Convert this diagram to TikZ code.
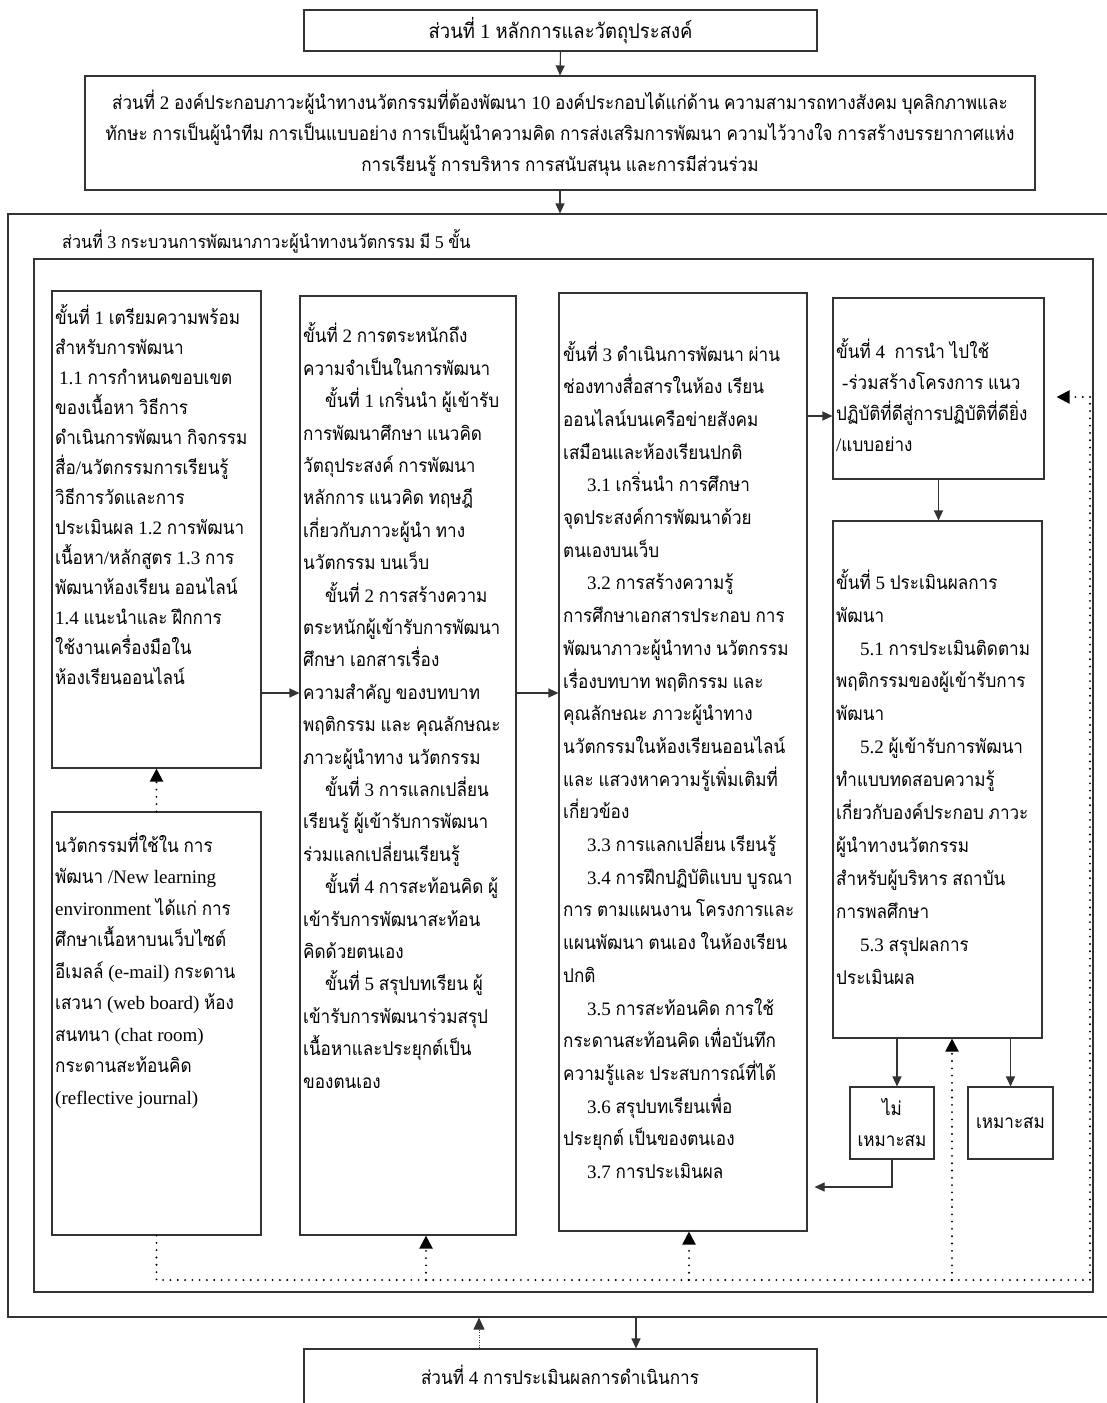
\documentclass[tikz,border=0pt]{standalone}
\usepackage{fontspec}
\setmainfont{Liberation Serif}
\newfontfamily\thaifont[Script=Thai,FakeStretch=0.9]{Loma}
\usetikzlibrary{arrows.meta}

% Thai characters switch to the Thai family automatically
\XeTeXinterchartokenstate=1
\chardef\thaiclass=3
\makeatletter
\@tempcnta="0E00
\loop\ifnum\@tempcnta<"0E80
  \XeTeXcharclass\@tempcnta=\thaiclass
  \advance\@tempcnta by 1
\repeat
\makeatother
\XeTeXinterchartoks 0 \thaiclass = {\begingroup\thaifont}
\XeTeXinterchartoks 4095 \thaiclass = {\begingroup\thaifont}
\XeTeXinterchartoks \thaiclass 0 = {\endgroup}
\XeTeXinterchartoks \thaiclass 4095 = {\endgroup}

\begin{document}
\begin{tikzpicture}[x=1pt,y=-1pt,
  line/.style={draw=black!80,line width=1.1pt},
  box/.style={line,rectangle,inner sep=0pt,align=center},
  % multi-line texts are placed by the baseline of their last line
  txt/.style={inner sep=0pt,anchor=base west,align=left},
  arr/.style={line,-{Triangle[length=10pt,width=9pt]}},
  dotln/.style={draw=black,line width=2.1pt,line cap=round,dash pattern=on 0pt off 7.3pt},
  dotarr/.style={dotln,-{Triangle[length=13pt,width=13pt]}},
  fineup/.style={draw=black!80,line width=0.8pt,dash pattern=on 1pt off 1.5pt,-{Triangle[length=12pt,width=11pt]}},
  body/.style={font=\fontsize{19}{#1}\selectfont}]
\useasboundingbox (0,0) rectangle (1107,1403);
\clip (0,0) rectangle (1107,1403);

% --- parts 1 and 2 ---
\node[box,minimum width=513pt,minimum height=41pt,font=\fontsize{20.5}{31}\selectfont] (p1) at (560.5,30.5)
  {ส่วนที่ 1 หลักการและวัตถุประสงค์};
\node[box,minimum width=950pt,minimum height=114pt] (p2) at (560,133) {};
\node[inner sep=0pt,anchor=base,align=center,body=31] (p2t) at (560,171)
  {ส่วนที่ 2 องค์ประกอบภาวะผู้นำทางนวัตกรรมที่ต้องพัฒนา 10 องค์ประกอบได้แก่ด้าน ความสามารถทางสังคม บุคลิกภาพและ\\
   ทักษะ การเป็นผู้นำทีม การเป็นแบบอย่าง การเป็นผู้นำความคิด การส่งเสริมการพัฒนา ความไว้วางใจ การสร้างบรรยากาศแห่ง\\
   การเรียนรู้ การบริหาร การสนับสนุน และการมีส่วนร่วม};

% --- part 3 frames ---
\node[box,minimum width=1112pt,minimum height=1103pt] (part3) at (564,765.5) {};
\node[txt,font=\fontsize{18}{31}\selectfont] (p3t) at (62,248)
  {ส่วนที่ 3 กระบวนการพัฒนาภาวะผู้นำทางนวัตกรรม มี 5 ขั้น};
\node[box,minimum width=1059pt,minimum height=1033pt] (inner) at (563.5,775.5) {};

% --- step boxes ---
\node[box,minimum width=209pt,minimum height=477pt] (s1) at (156.5,529.5) {};
\node[box,minimum width=209pt,minimum height=423pt] (inv) at (156.5,1023.5) {};
\node[box,minimum width=216pt,minimum height=939pt] (s2) at (408,765.5) {};
\node[box,minimum width=248pt,minimum height=938pt] (s3) at (683,762) {};
\node[box,minimum width=211pt,minimum height=181pt] (s4) at (938.5,388.5) {};
\node[box,minimum width=209pt,minimum height=517pt] (s5) at (937.5,779.5) {};
\node[box,minimum width=84pt,minimum height=72pt,body=31] (nf) at (892,1123)
  {ไม่\\เหมาะสม};
\node[box,minimum width=85pt,minimum height=72pt,body=31] (fit) at (1010.5,1123)
  {เหมาะสม};
\node[box,minimum width=513pt,minimum height=71pt] (p4) at (560.5,1384.5) {};
\node[inner sep=0pt,anchor=base,body=31] (p4t) at (560,1384)
  {ส่วนที่ 4 การประเมินผลการดำเนินการ};

% --- texts of the step boxes ---
\node[txt,body=30] (t1) at (55,684)
  {ขั้นที่ 1 เตรียมความพร้อม\\
   สำหรับการพัฒนา\\
   \hspace*{4pt}1.1 การกำหนดขอบเขต\\
   ของเนื้อหา วิธีการ\\
   ดำเนินการพัฒนา กิจกรรม\\
   สื่อ/นวัตกรรมการเรียนรู้\\
   วิธีการวัดและการ\\
   ประเมินผล 1.2 การพัฒนา\\
   เนื้อหา/หลักสูตร 1.3 การ\\
   พัฒนาห้องเรียน ออนไลน์\\
   1.4 แนะนำและ ฝึกการ\\
   ใช้งานเครื่องมือใน\\
   ห้องเรียนออนไลน์};

\node[txt,body=31.5] (tinv) at (55,1104)
  {นวัตกรรมที่ใช้ใน การ\\
   พัฒนา /New learning\\
   environment ได้แก่ การ\\
   ศึกษาเนื้อหาบนเว็บไซต์\\
   อีเมลล์ (e-mail) กระดาน\\
   เสวนา (web board) ห้อง\\
   สนทนา (chat room)\\
   กระดานสะท้อนคิด\\
   (reflective journal)};

\node[txt,body=32.4] (t2) at (303,1088)
  {ขั้นที่ 2 การตระหนักถึง\\
   ความจำเป็นในการพัฒนา\\
   \hspace*{22pt}ขั้นที่ 1 เกริ่นนำ ผู้เข้ารับ\\
   การพัฒนาศึกษา แนวคิด\\
   วัตถุประสงค์ การพัฒนา\\
   หลักการ แนวคิด ทฤษฎี\\
   เกี่ยวกับภาวะผู้นำ ทาง\\
   นวัตกรรม บนเว็บ\\
   \hspace*{22pt}ขั้นที่ 2 การสร้างความ\\
   ตระหนักผู้เข้ารับการพัฒนา\\
   ศึกษา เอกสารเรื่อง\\
   ความสำคัญ ของบทบาท\\
   พฤติกรรม และ คุณลักษณะ\\
   ภาวะผู้นำทาง นวัตกรรม\\
   \hspace*{22pt}ขั้นที่ 3 การแลกเปลี่ยน\\
   เรียนรู้ ผู้เข้ารับการพัฒนา\\
   ร่วมแลกเปลี่ยนเรียนรู้\\
   \hspace*{22pt}ขั้นที่ 4 การสะท้อนคิด ผู้\\
   เข้ารับการพัฒนาสะท้อน\\
   คิดด้วยตนเอง\\
   \hspace*{22pt}ขั้นที่ 5 สรุปบทเรียน ผู้\\
   เข้ารับการพัฒนาร่วมสรุป\\
   เนื้อหาและประยุกต์เป็น\\
   ของตนเอง};

\node[txt,body=32.7] (t3) at (563,1178.5)
  {ขั้นที่ 3 ดำเนินการพัฒนา ผ่าน\\
   ช่องทางสื่อสารในห้อง เรียน\\
   ออนไลน์บนเครือข่ายสังคม\\
   เสมือนและห้องเรียนปกติ\\
   \hspace*{24pt}3.1 เกริ่นนำ การศึกษา\\
   จุดประสงค์การพัฒนาด้วย\\
   ตนเองบนเว็บ\\
   \hspace*{24pt}3.2 การสร้างความรู้\\
   การศึกษาเอกสารประกอบ การ\\
   พัฒนาภาวะผู้นำทาง นวัตกรรม\\
   เรื่องบทบาท พฤติกรรม และ\\
   คุณลักษณะ ภาวะผู้นำทาง\\
   นวัตกรรมในห้องเรียนออนไลน์\\
   และ แสวงหาความรู้เพิ่มเติมที่\\
   เกี่ยวข้อง\\
   \hspace*{24pt}3.3 การแลกเปลี่ยน เรียนรู้\\
   \hspace*{24pt}3.4 การฝึกปฏิบัติแบบ บูรณา\\
   การ ตามแผนงาน โครงการและ\\
   แผนพัฒนา ตนเอง ในห้องเรียน\\
   ปกติ\\
   \hspace*{24pt}3.5 การสะท้อนคิด การใช้\\
   กระดานสะท้อนคิด เพื่อบันทึก\\
   ความรู้และ ประสบการณ์ที่ได้\\
   \hspace*{24pt}3.6 สรุปบทเรียนเพื่อ\\
   ประยุกต์ เป็นของตนเอง\\
   \hspace*{24pt}3.7 การประเมินผล};

\node[txt,body=31] (t4) at (836,451)
  {ขั้นที่ 4\ \ การนำ ไปใช้\\
   \hspace*{6pt}-ร่วมสร้างโครงการ แนว\\
   ปฏิบัติที่ดีสู่การปฏิบัติที่ดียิ่ง\\
   /แบบอย่าง};

\node[txt,body=32.9] (t5) at (836,984)
  {ขั้นที่ 5 ประเมินผลการ\\
   พัฒนา\\
   \hspace*{24pt}5.1 การประเมินติดตาม\\
   พฤติกรรมของผู้เข้ารับการ\\
   พัฒนา\\
   \hspace*{24pt}5.2 ผู้เข้ารับการพัฒนา\\
   ทำแบบทดสอบความรู้\\
   เกี่ยวกับองค์ประกอบ ภาวะ\\
   ผู้นำทางนวัตกรรม\\
   สำหรับผู้บริหาร สถาบัน\\
   การพลศึกษา\\
   \hspace*{24pt}5.3 สรุปผลการ\\
   ประเมินผล};

% --- reference levels for connectors ---
\coordinate (yA) at (0,693);
\coordinate (yB) at (0,416);
\coordinate (yE) at (0,1187);
\coordinate (yF) at (0,1280);
\coordinate (yH) at (0,397);
\coordinate (xD) at (897,0);
\coordinate (xG) at (1090,0);
\coordinate (xI) at (426,0);
\coordinate (xJ) at (689,0);
\coordinate (xK) at (952,0);
\coordinate (xL) at (636,0);
\coordinate (xM) at (479,0);

% --- solid connectors ---
\draw[arr] (p1.south) -- (p2.north);
\draw[arr] (p2.south) -- (p2.south |- part3.north);
\draw[arr] (s1.east |- yA) -- (s2.west |- yA);
\draw[arr] (s2.east |- yA) -- (s3.west |- yA);
\draw[arr] (s3.east |- yB) -- (s4.west |- yB);
\draw[arr] (s4.south) -- (s4.south |- s5.north);
\draw[arr] (xD |- s5.south) -- (xD |- nf.north);
\draw[arr] (fit.north |- s5.south) -- (fit.north);
\draw[arr,shorten >=7pt] (nf.south) |- (s3.east |- yE);
\draw[arr] (xL |- part3.south) -- (xL |- p4.north);
\draw[fineup] (xM |- p4.north) -- (xM |- part3.south);

% --- dotted feedback loop ---
\draw[dotarr] (inv.north) -- (s1.south);
\draw[dotln] (inv.south) -- (inv.south |- yF) -- (xG |- yF) -- (xG |- yH);
\draw[dotarr,shorten >=12pt] (xG |- yH) -- (s4.east |- yH);
\draw[dotarr] (xI |- yF) -- (xI |- s2.south);
\draw[dotarr] (xJ |- yF) -- (xJ |- s3.south);
\draw[dotarr] (xK |- yF) -- (xK |- s5.south);
\end{tikzpicture}
\end{document}
